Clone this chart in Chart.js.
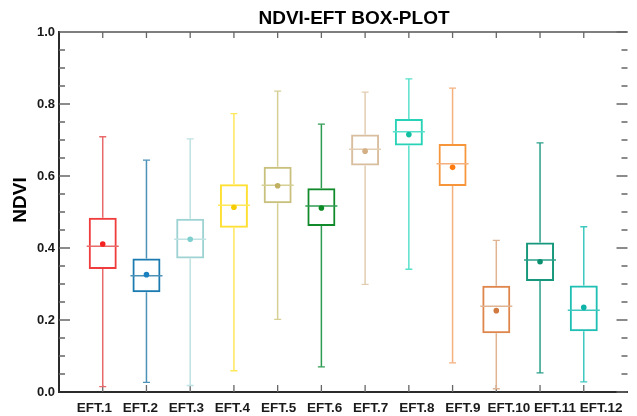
<!DOCTYPE html>
<html>
<head>
<meta charset="utf-8">
<title>NDVI-EFT box plot</title>
<script src="https://cdn.jsdelivr.net/npm/chart.js@4.4.1/dist/chart.umd.min.js"></script>
<style>
    html, body { margin: 0; padding: 0; background: #fff; overflow: hidden; }
    canvas { display: block; }
</style>
</head>
<body>
<canvas id="boxplot" width="645" height="416"></canvas>
<script>
const categories = ["EFT.1", "EFT.2", "EFT.3", "EFT.4", "EFT.5", "EFT.6",
                    "EFT.7", "EFT.8", "EFT.9", "EFT.10", "EFT.11", "EFT.12"];

// five-number summary + mean for each EFT
const whiskerLow  = [0.015, 0.027, 0.018, 0.059, 0.202, 0.070, 0.299, 0.341, 0.081, 0.009, 0.053, 0.028];
const q1          = [0.342, 0.277, 0.371, 0.456, 0.524, 0.461, 0.629, 0.685, 0.572, 0.163, 0.308, 0.169];
const medians     = [0.405, 0.323, 0.424, 0.519, 0.574, 0.517, 0.674, 0.723, 0.634, 0.238, 0.367, 0.227];
const q3          = [0.484, 0.371, 0.481, 0.577, 0.626, 0.566, 0.715, 0.758, 0.689, 0.295, 0.415, 0.296];
const whiskerHigh = [0.709, 0.644, 0.703, 0.773, 0.836, 0.744, 0.833, 0.870, 0.844, 0.421, 0.692, 0.459];
const means       = [0.411, 0.326, 0.424, 0.513, 0.573, 0.511, 0.669, 0.715, 0.624, 0.226, 0.362, 0.235];

const yMajorTicks = [0, 0.2, 0.4, 0.6, 0.8, 1.0];
const yMinorStep = 0.05;

const boxColors = ["#f03c3c", "#1b7bb0", "#9fd3d3", "#ffe033", "#c8c07c", "#118a2c",
                   "#d8be9e", "#28d2b6", "#f6953a", "#df864c", "#17987c", "#1fbfb3"];
const whiskerColors = ["#e86a6a", "#4c91b8", "#bfe2e2", "#ffe85a", "#d6cf94", "#2f9b52",
                       "#e3cdb2", "#58e0cc", "#f4b07e", "#e0b492", "#2aa08a", "#3ec8bf"];
const dotColors = ["#f52222", "#1a80c0", "#7fcfcf", "#f5cc00", "#c0b060", "#0a8a22",
                   "#d4ae84", "#12c0a0", "#ff7a10", "#d07a40", "#0a9070", "#10b3a8"];

const FONT = '"Liberation Sans", Arial, sans-serif';
Chart.defaults.font.family = FONT;
Chart.defaults.color = "#1a1a1a";

const pos = categories.map((c, i) => i + 1);

// axis frame, inward tick marks and titles
const frame = {
    id: "frame",
    beforeDatasetsDraw(chart) {
        const { ctx, chartArea: a, scales: { x, y } } = chart;
        ctx.save();

        ctx.strokeStyle = "#555";
        ctx.lineWidth = 1.5;
        ctx.beginPath();
        ctx.moveTo(a.left, a.top);
        ctx.lineTo(a.right, a.top);
        ctx.stroke();

        ctx.strokeStyle = "#666";
        ctx.lineWidth = 1.3;
        ctx.beginPath();
        pos.forEach(v => {
            const px = x.getPixelForValue(v);
            ctx.moveTo(px, a.top);
            ctx.lineTo(px, a.top + 6);
            ctx.moveTo(px, a.bottom);
            ctx.lineTo(px, a.bottom - 7);
        });
        for (let k = 0; k * yMinorStep <= 1.0001; k++) {
            const v = k * yMinorStep;
            const py = y.getPixelForValue(v);
            const major = yMajorTicks.some(t => Math.abs(t - v) < 1e-6);
            const len = major ? 11 : 6;
            if (v > 0 && v < 1) {
                ctx.moveTo(a.left, py);
                ctx.lineTo(a.left + len, py);
            }
            ctx.moveTo(a.right, py);
            ctx.lineTo(a.right - len, py);
        }
        ctx.stroke();
        ctx.restore();
    },
    afterDraw(chart) {
        const { ctx, chartArea: a } = chart;
        ctx.save();
        ctx.fillStyle = "#000";
        ctx.font = "bold 19px " + FONT;
        ctx.textAlign = "center";
        ctx.textBaseline = "alphabetic";
        ctx.fillText("NDVI-EFT BOX-PLOT", 354, 24);

        ctx.translate(21, (a.top + a.bottom) / 2 - 12);
        ctx.rotate(-Math.PI / 2);
        ctx.textBaseline = "middle";
        ctx.fillText("NDVI", 0, 0);
        ctx.restore();
    }
};

const ctx = document.getElementById("boxplot").getContext("2d");
new Chart(ctx, {
    type: "bar",
    data: {
        datasets: [
            {
                // upper whisker stems
                data: pos.map((p, i) => ({ x: p, y: [q3[i], whiskerHigh[i]] })),
                backgroundColor: whiskerColors,
                borderWidth: 0,
                maxBarThickness: 1.5,
                grouped: false,
                order: 5
            },
            {
                // lower whisker stems
                data: pos.map((p, i) => ({ x: p, y: [whiskerLow[i], q1[i]] })),
                backgroundColor: whiskerColors,
                borderWidth: 0,
                maxBarThickness: 1.5,
                grouped: false,
                order: 5
            },
            {
                // interquartile boxes
                data: pos.map((p, i) => ({ x: p, y: [q1[i], q3[i]] })),
                backgroundColor: "rgba(0,0,0,0)",
                borderColor: boxColors,
                borderWidth: 2,
                borderSkipped: false,
                maxBarThickness: 28,
                grouped: false,
                order: 4
            },
            {
                // whisker caps
                type: "scatter",
                data: pos.map((p, i) => ({ x: p, y: whiskerHigh[i] }))
                    .concat(pos.map((p, i) => ({ x: p, y: whiskerLow[i] }))),
                pointStyle: "line",
                pointRadius: 3.5,
                pointBorderWidth: 1.3,
                pointBorderColor: whiskerColors.concat(whiskerColors),
                order: 3
            },
            {
                // medians
                type: "scatter",
                data: pos.map((p, i) => ({ x: p, y: medians[i] })),
                pointStyle: "line",
                pointRadius: 16,
                pointBorderWidth: 1.5,
                pointBorderColor: whiskerColors,
                order: 2
            },
            {
                // means
                type: "scatter",
                data: pos.map((p, i) => ({ x: p, y: means[i] })),
                pointStyle: "circle",
                pointRadius: 2.8,
                pointBorderWidth: 0,
                pointBackgroundColor: dotColors,
                order: 1
            }
        ]
    },
    options: {
        responsive: false,
        animation: false,
        layout: { padding: { top: 32, right: 6, left: 0, bottom: 0 } },
        plugins: {
            legend: { display: false },
            tooltip: { enabled: false },
            title: { display: false }
        },
        scales: {
            x: {
                type: "linear",
                offset: false,
                min: 0,
                max: 13,
                grid: { display: false, drawTicks: false },
                border: { display: true, color: "#2b2b2b", width: 2 },
                ticks: { display: false, stepSize: 1 },
                afterFit(scale) { scale.height = 0; }
            },
            // category names sit on their own, slightly wider-spaced axis
            names: {
                type: "linear",
                position: "bottom",
                weight: 1,
                offset: false,
                min: 0.234,
                max: 12.574,
                grid: { display: false, drawTicks: false },
                border: { display: false },
                ticks: {
                    stepSize: 1,
                    includeBounds: false,
                    autoSkip: false,
                    maxRotation: 0,
                    padding: 8,
                    font: { size: 13.5, weight: "bold" },
                    callback: v => Number.isInteger(v) ? (categories[v - 1] || "") : ""
                },
                afterFit(scale) { scale.height = 24; }
            },
            y: {
                min: 0,
                max: 1,
                grid: { display: false, drawTicks: false },
                border: { display: true, color: "#2b2b2b", width: 2 },
                ticks: {
                    stepSize: 0.2,
                    padding: 4,
                    font: { size: 13, weight: "bold" },
                    callback: v => Number(v).toFixed(1)
                },
                afterFit(scale) { scale.width = 59; }
            }
        }
    },
    plugins: [frame]
});
</script>
</body>
</html>
